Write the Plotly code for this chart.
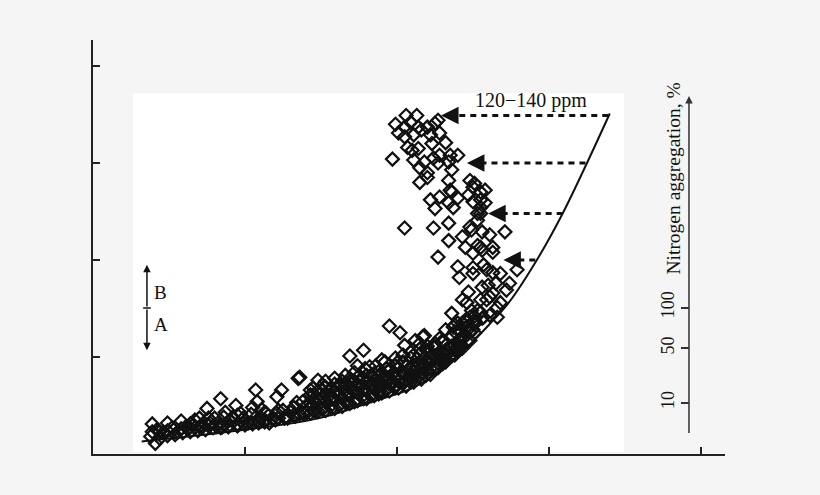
import plotly.graph_objects as go

# -------------------------------------------------------------------
# Data (arbitrary axis units)
# -------------------------------------------------------------------
# lower tail of the cloud, close to the curve
tail_x = [0.41, 0.42, 0.46, 0.52, 0.56, 0.61, 0.66, 0.70, 0.75, 0.84,
          0.77, 0.80, 0.85, 0.90, 0.94, 0.92, 0.99, 1.02, 1.05, 1.07,
          1.08, 1.10, 1.09, 1.14, 1.16, 1.21, 1.24, 1.21, 1.25, 1.28,
          1.32, 1.35, 1.34, 1.38, 1.38, 1.43,
          0.38, 0.44, 0.49, 0.54, 0.59, 0.64, 0.69, 0.74, 0.79, 0.84,
          0.89, 0.95, 1.00, 1.05, 1.13, 1.20, 1.26, 1.33, 1.39, 0.97,
          0.64, 0.70, 0.87, 1.11, 1.30]
tail_y = [0.11, 0.25, 0.22, 0.27, 0.23, 0.28, 0.30, 0.28, 0.47, 0.57,
          0.32, 0.37, 0.28, 0.35, 0.50, 0.38, 0.37, 0.32, 0.48, 0.66,
          0.54, 0.38, 0.32, 0.42, 0.32, 0.59, 0.66, 0.42, 0.45, 0.37,
          0.48, 0.78, 0.53, 0.54, 0.42, 0.66,
          0.18, 0.16, 0.19, 0.20, 0.22, 0.23, 0.24, 0.25, 0.27, 0.27,
          0.28, 0.29, 0.30, 0.31, 0.33, 0.35, 0.37, 0.39, 0.41, 0.42,
          0.31, 0.37, 0.43, 0.46, 0.43]

# dense strip hugging the curve in the tail
strip_x = [0.39, 0.44, 0.49, 0.53, 0.58, 0.63, 0.67, 0.72, 0.76, 0.81,
           0.86, 0.90, 0.95, 0.99, 1.04, 1.09, 1.13, 1.18, 1.22, 1.27,
           1.32, 1.36, 1.41,
           0.39, 0.49, 0.58, 0.67, 0.76, 0.86, 0.95, 1.04, 1.13, 1.22,
           1.32, 1.41]
strip_y = [0.23, 0.23, 0.24, 0.25, 0.26, 0.26, 0.27, 0.28, 0.29, 0.29,
           0.30, 0.30, 0.31, 0.32, 0.33, 0.34, 0.35, 0.36, 0.37, 0.38,
           0.40, 0.41, 0.43,
           0.31, 0.32, 0.34, 0.35, 0.37, 0.38, 0.40, 0.41, 0.43, 0.45,
           0.48, 0.51]

# scattered points just above the dense band
mid_x = [1.48, 1.45, 1.51, 1.69, 1.78, 1.74, 1.69, 1.82, 1.90, 1.95,
         2.02, 2.00, 2.17, 2.28, 1.36, 2.11, 2.15, 2.24, 2.37, 2.43, 2.50]
mid_y = [0.76, 0.68, 0.71, 1.01, 1.07, 0.91, 0.75, 0.90, 0.97, 1.32,
         1.25, 0.94, 1.21, 1.19, 0.79, 1.02, 1.14, 1.10, 1.31, 1.35, 1.28]

# the dense (nearly solid) band, first layer
band_x = [1.46, 1.46,
          1.51, 1.51, 1.51, 1.57, 1.57, 1.57, 1.62, 1.62, 1.62,
          1.67, 1.67, 1.67, 1.72, 1.72, 1.72, 1.78, 1.78, 1.78,
          1.83, 1.83, 1.83, 1.88, 1.88, 1.88, 1.93, 1.93, 1.93,
          1.99, 1.99, 1.99, 2.04, 2.04, 2.04, 2.09, 2.09, 2.09,
          2.15, 2.15, 2.15, 2.20, 2.20, 2.20, 2.25, 2.25, 2.25,
          2.30, 2.30, 2.30, 2.36, 2.36, 2.36, 2.41, 2.41, 2.41,
          2.46, 2.46, 2.46, 2.51, 2.51, 2.51]
band_y = [0.44, 0.54,
          0.46, 0.58, 0.66, 0.47, 0.58, 0.68, 0.50, 0.61, 0.71,
          0.52, 0.62, 0.72, 0.54, 0.64, 0.75, 0.57, 0.67, 0.78,
          0.60, 0.70, 0.81, 0.62, 0.72, 0.85, 0.66, 0.76, 0.88,
          0.69, 0.79, 0.91, 0.73, 0.83, 0.95, 0.77, 0.88, 0.99,
          0.81, 0.92, 1.03, 0.83, 0.95, 1.06, 0.89, 1.00, 1.10,
          0.94, 1.05, 1.15, 1.01, 1.11, 1.22, 1.09, 1.18, 1.28,
          1.16, 1.27, 1.36, 1.25, 1.34, 1.42]

# the dense band, second (staggered) layer
band2_x = [1.43, 1.43, 1.43, 1.48, 1.48, 1.48,
           1.53, 1.53, 1.53, 1.53, 1.59, 1.59, 1.59, 1.59,
           1.64, 1.64, 1.64, 1.64, 1.69, 1.69, 1.69, 1.69,
           1.74, 1.74, 1.74, 1.74, 1.80, 1.80, 1.80, 1.80,
           1.85, 1.85, 1.85, 1.85, 1.90, 1.90, 1.90, 1.90,
           1.95, 1.95, 1.95, 1.95, 2.01, 2.01, 2.01, 2.01,
           2.06, 2.06, 2.06, 2.06, 2.11, 2.11, 2.11, 2.11,
           2.16, 2.16, 2.16, 2.16, 2.22, 2.22, 2.22, 2.22,
           2.27, 2.27, 2.27, 2.27, 2.32, 2.32, 2.32,
           2.38, 2.38, 2.38, 2.43, 2.43, 2.48, 2.48]
band2_y = [0.42, 0.52, 0.61, 0.44, 0.55, 0.65,
           0.45, 0.54, 0.62, 0.69, 0.47, 0.56, 0.64, 0.72,
           0.49, 0.58, 0.67, 0.75, 0.52, 0.61, 0.69, 0.78,
           0.55, 0.63, 0.71, 0.79, 0.57, 0.65, 0.73, 0.81,
           0.60, 0.68, 0.75, 0.83, 0.63, 0.70, 0.77, 0.84,
           0.65, 0.72, 0.79, 0.87, 0.68, 0.75, 0.81, 0.89,
           0.70, 0.76, 0.83, 0.90, 0.74, 0.80, 0.85, 0.92,
           0.77, 0.83, 0.89, 0.95, 0.82, 0.88, 0.94, 0.99,
           0.89, 0.94, 0.98, 1.03, 0.95, 1.01, 1.07,
           1.02, 1.07, 1.12, 1.09, 1.18, 1.17, 1.26]

# the dense band, third layer (fills the gaps)
band3_x = [1.45, 1.45, 1.45, 1.45, 1.56, 1.56, 1.56, 1.56,
           1.66, 1.66, 1.66, 1.66, 1.77, 1.77, 1.77, 1.77,
           1.88, 1.88, 1.88, 1.88, 1.98, 1.98, 1.98, 1.98,
           2.09, 2.09, 2.09, 2.09, 2.19, 2.19, 2.19, 2.19,
           2.30, 2.30, 2.30, 2.30, 2.40, 2.40, 2.40, 2.40]
band3_y = [0.45, 0.50, 0.56, 0.61, 0.49, 0.56, 0.61, 0.67,
           0.54, 0.60, 0.66, 0.73, 0.59, 0.65, 0.71, 0.77,
           0.64, 0.69, 0.75, 0.80, 0.69, 0.74, 0.79, 0.84,
           0.74, 0.79, 0.83, 0.89, 0.81, 0.85, 0.91, 0.95,
           0.93, 0.96, 1.00, 1.03, 1.06, 1.09, 1.11, 1.14]

# top edge of the dense band, where it rises into the upper cluster
top_x = [1.99, 2.04, 2.09, 2.15, 2.20, 2.25, 2.30, 2.36, 2.41, 2.46,
         2.51, 2.55, 2.05, 2.12, 2.18, 2.32, 2.38, 1.72, 1.79, 1.86,
         1.92, 1.66, 1.59, 1.53, 2.74, 2.59, 2.53, 2.48, 2.57, 2.45]
top_y = [0.99, 1.02, 1.05, 1.08, 1.11, 1.14, 1.17, 1.22, 1.26, 1.31,
         1.38, 1.46, 1.12, 1.17, 1.22, 1.28, 1.33, 0.84, 0.88, 0.91,
         0.95, 0.81, 0.78, 0.75, 1.76, 1.59, 1.48, 1.41, 1.41, 1.38]

# upper cluster (high ppm)
upper_x = [1.99, 2.06, 2.01, 2.05, 2.07, 1.97, 2.05, 2.13, 2.05, 2.09,
           2.11, 2.16, 2.20, 2.25, 2.27, 2.10, 2.14, 2.22, 2.28, 2.23,
           2.32, 2.11, 2.18, 2.24, 2.28, 2.35, 2.40, 2.15, 2.20, 2.27,
           2.34, 2.36, 2.15, 2.20, 2.34, 2.35, 2.48, 2.50, 2.55, 2.58,
           2.22, 2.28, 2.34, 2.25, 2.37, 2.40, 2.47, 2.50, 2.55, 2.58,
           2.53, 2.14, 2.51, 2.36, 2.55, 2.71, 2.34, 2.34, 2.43, 2.49,
           2.61, 2.27, 2.45, 2.50, 2.55, 2.63, 2.79, 2.40, 2.41, 2.50,
           2.59, 2.68, 2.47, 2.56, 2.65, 2.72, 2.55, 2.63, 2.68, 2.24,
           2.48, 2.53, 2.56, 2.53, 2.56, 2.63, 2.50, 2.57, 2.63, 2.60,
           2.61, 2.66, 2.43, 2.36, 2.49, 2.56, 2.61, 2.66, 2.40, 2.45,
           2.51, 2.38, 2.41, 2.55, 2.46]
upper_y = [3.40, 3.49, 3.31, 3.27, 3.16, 3.04, 2.33, 3.49, 3.37, 3.42,
           3.29, 3.34, 3.37, 3.41, 3.44, 3.13, 3.15, 3.29, 3.31, 3.20,
           3.21, 3.03, 3.01, 3.05, 3.08, 3.08, 3.08, 2.95, 2.90, 3.00,
           3.01, 2.93, 2.80, 2.85, 2.82, 2.72, 2.82, 2.75, 2.70, 2.72,
           2.62, 2.65, 2.59, 2.53, 2.54, 2.64, 2.67, 2.60, 2.62, 2.59,
           2.48, 3.37, 2.79, 2.70, 2.48, 2.29, 2.38, 2.20, 2.24, 2.31,
           2.26, 2.03, 2.13, 2.07, 2.13, 2.13, 1.90, 1.93, 1.82, 1.86,
           1.90, 1.86, 1.67, 1.72, 1.76, 1.69, 1.59, 1.66, 1.56, 2.33,
           2.34, 2.41, 2.29, 2.15, 2.10, 2.08, 1.92, 1.95, 1.87, 1.74,
           1.62, 1.51, 1.59, 1.45, 1.48, 1.40, 1.43, 1.41, 1.35, 1.30,
           1.35, 1.26, 1.17, 2.54, 1.56]

# lower envelope curve
curve_x = [0.32, 1.00, 1.49, 1.82, 2.04, 2.15, 2.26, 2.38, 2.50, 2.61,
           2.74, 2.92, 3.09, 3.25, 3.40]
curve_y = [0.13, 0.25, 0.37, 0.53, 0.64, 0.72, 0.83, 0.99, 1.16, 1.34,
           1.57, 2.00, 2.48, 3.00, 3.51]

# dotted arrows from the curve back to the cloud
arrow_y = [3.49, 3.00, 2.48, 2.00]
arrow_tail_x = [3.39, 3.24, 3.09, 2.91]
arrow_head_x = [2.29, 2.46, 2.60, 2.70]

# right-hand nitrogen aggregation scale
n_tick_labels = ["10", "50", "100"]
n_tick_pos = [0.53, 1.09, 1.51]

# B / A marker on the left
ba_x = 0.355
ba_top, ba_mid, ba_bottom = 1.95, 1.505, 1.07

X_MAX, Y_MAX = 4.158, 4.268
FONT = "Liberation Serif"
INK = "#111111"
BG = "#f5f5f5"

fig = go.Figure()

# white panel behind the data
fig.add_shape(type="rect", x0=0.263, x1=3.493, y0=0.02, y1=3.72,
              fillcolor="white", line_width=0, layer="below")

fig.add_scatter(x=curve_x, y=curve_y, mode="lines",
                line=dict(color=INK, width=2, shape="spline"), hoverinfo="skip")

all_x = tail_x + strip_x + band_x + band2_x + band3_x + top_x + mid_x + upper_x
all_y = tail_y + strip_y + band_y + band2_y + band3_y + top_y + mid_y + upper_y
fig.add_scatter(x=all_x, y=all_y, mode="markers",
                marker=dict(symbol="diamond-open", size=10, color=INK,
                            line=dict(width=2.2, color=INK)))

# dotted lines + arrow heads
for yv, xt, xh in zip(arrow_y, arrow_tail_x, arrow_head_x):
    fig.add_scatter(x=[xt, xh + 0.07], y=[yv, yv], mode="lines",
                    line=dict(color=INK, width=3, dash="6px,5px"), hoverinfo="skip")
    fig.add_annotation(x=xh, y=yv, ax=xh + 0.09, ay=yv, axref="x", ayref="y",
                       xref="x", yref="y", text="", showarrow=True,
                       arrowhead=2, arrowsize=1.4, arrowwidth=2.5, arrowcolor=INK)

fig.add_annotation(x=2.88, y=3.64, text="120\u2212140 ppm", showarrow=False,
                   font=dict(family=FONT, size=20, color=INK))

# right vertical arrow (nitrogen aggregation axis)
fig.add_annotation(x=3.921, y=3.69, ax=3.921, ay=0.2, axref="x", ayref="y",
                   text="", showarrow=True, arrowhead=2, arrowsize=1,
                   arrowwidth=1.5, arrowcolor="#333333")
fig.add_annotation(x=3.816, y=2.84, text="Nitrogen aggregation, %", textangle=-90,
                   showarrow=False, font=dict(family=FONT, size=19.5, color=INK))
fig.add_scatter(x=[None], y=[None], yaxis="y2", showlegend=False)

# B / A double arrow
for yend in (ba_top, ba_bottom):
    fig.add_annotation(x=ba_x, y=yend, ax=ba_x, ay=ba_mid, axref="x", ayref="y",
                       text="", showarrow=True, arrowhead=2, arrowsize=1,
                       arrowwidth=1.5, arrowcolor=INK)
fig.add_shape(type="line", x0=ba_x - 0.025, x1=ba_x + 0.025, y0=ba_mid, y1=ba_mid,
              line=dict(color=INK, width=1.5))
fig.add_annotation(x=0.39, y=1.66, text="B", xanchor="left", showarrow=False,
                   font=dict(family=FONT, size=19, color=INK))
fig.add_annotation(x=0.39, y=1.33, text="A", xanchor="left", showarrow=False,
                   font=dict(family=FONT, size=19, color=INK))

axis_style = dict(showline=True, linecolor="#222222", linewidth=1.5,
                  ticks="inside", ticklen=7, tickwidth=1.5, tickcolor="#222222",
                  tickvals=[1, 2, 3, 4], showticklabels=False,
                  showgrid=False, zeroline=False)

fig.update_layout(
    width=820, height=495,
    margin=dict(l=93, r=95, t=40, b=41),
    paper_bgcolor=BG, plot_bgcolor=BG,
    showlegend=False,
    font=dict(family=FONT, color=INK),
    xaxis=dict(range=[0, X_MAX], **axis_style),
    yaxis=dict(range=[0, Y_MAX], **axis_style),
    yaxis2=dict(range=[0, Y_MAX], overlaying="y", anchor="free", position=0.943,
                side="left", tickvals=n_tick_pos, ticktext=n_tick_labels,
                ticks="outside", ticklen=8, tickwidth=1.5, tickcolor="#333333",
                tickangle=-90, tickfont=dict(family=FONT, size=18, color=INK),
                showline=False, showgrid=False, zeroline=False),
)

# drop the default page margin so the figure sits at the window corner
fig.write_html("out.html", config={"displayModeBar": False},
               post_script="document.body.style.margin='0';"
                           "document.body.style.background='#f5f5f5';")
